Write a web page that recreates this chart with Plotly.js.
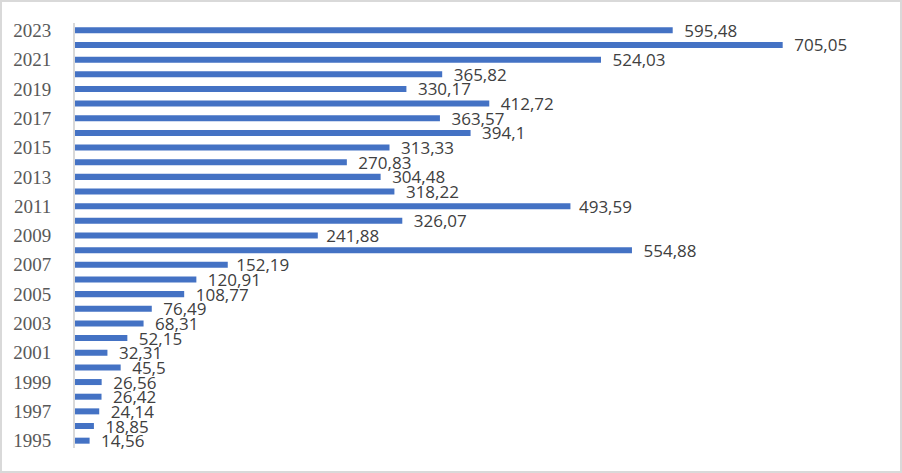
<!DOCTYPE html>
<html>
<head>
<meta charset="utf-8">
<script src="https://cdn.plot.ly/plotly-3.0.1.min.js"></script>
<style>
  html, body { margin: 0; padding: 0; background: #fff; }
  #plot {
    width: 902px; height: 473px; box-sizing: border-box;
    border: 2px solid #d9d9d9;
  }
</style>
</head>
<body>
<div id="plot"></div>
<script>
// --- Data ---
const years = [1995, 1996, 1997, 1998, 1999, 2000, 2001, 2002, 2003, 2004,
  2005, 2006, 2007, 2008, 2009, 2010, 2011, 2012, 2013, 2014,
  2015, 2016, 2017, 2018, 2019, 2020, 2021, 2022, 2023];
const values = [14.56, 18.85, 24.14, 26.42, 26.56, 45.5, 32.31, 52.15, 68.31, 76.49,
  108.77, 120.91, 152.19, 554.88, 241.88, 326.07, 493.59, 318.22, 304.48, 270.83,
  313.33, 394.1, 363.57, 412.72, 330.17, 365.82, 524.03, 705.05, 595.48];
const labelYears = years.filter(y => y % 2 === 1);

const cats = years.map(String);

const bars = {
  type: "bar",
  orientation: "h",
  x: values,
  y: cats,
  marker: { color: "#4472C4" },
  text: values.map(v => "\u2002" + String(v).replace(".", ",")),
  textposition: "outside",
  textfont: { family: "Open Sans, sans-serif", size: 17, color: "#404040" },
  constraintext: "none",
  cliponaxis: false,
  hoverinfo: "x+y"
};

const layout = {
  width: 898,
  height: 469,
  margin: { l: 73, r: 22, t: 21, b: 23 },
  paper_bgcolor: "white",
  plot_bgcolor: "white",
  showlegend: false,
  bargap: 0.59,
  xaxis: {
    range: [0, 800],
    showgrid: false,
    zeroline: false,
    showticklabels: false,
    showline: false
  },
  yaxis: {
    type: "category",
    categoryorder: "array",
    categoryarray: cats,
    tickvals: labelYears.map(String),
    ticktext: labelYears.map(String),
    showgrid: false,
    zeroline: false,
    showline: true,
    linecolor: "#d9d9d9",
    linewidth: 2,
    ticks: "",
    ticklabelstandoff: 18,
    tickfont: { family: "Liberation Serif, Times New Roman, serif", size: 19, color: "#595959" }
  }
};

Plotly.newPlot("plot", [bars], layout, { displayModeBar: false, staticPlot: true });
</script>
</body>
</html>
